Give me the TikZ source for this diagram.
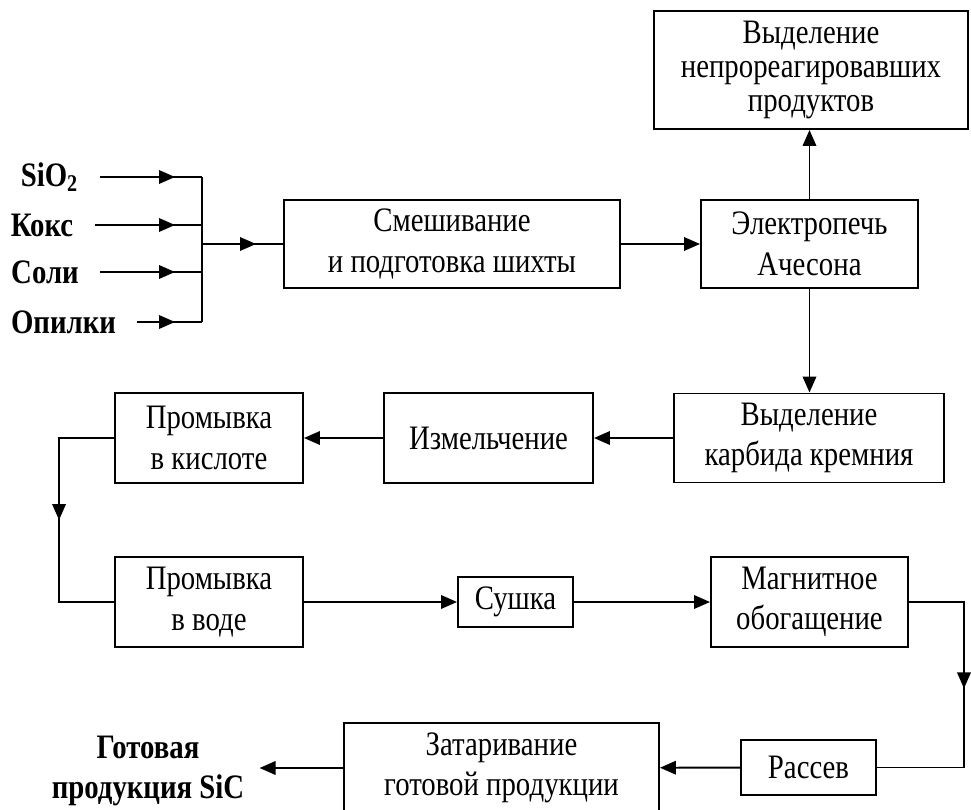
\documentclass[tikz,border=0pt]{standalone}
\usepackage{fontspec}
\setmainfont[FakeStretch=0.84]{Liberation Serif}
\usetikzlibrary{arrows.meta, decorations.markings}

\begin{document}
\begin{tikzpicture}[
		box/.style={draw, line width=1.1pt, align=center, inner sep=2pt, font=\fontsize{19.5}{23}\selectfont},
		src/.style={font=\bfseries\fontsize{19.5}{23}\selectfont, inner xsep=0.42cm},
		wire/.style={line width=1.1pt},
		arr/.style={line width=1.1pt, -{Triangle[length=0.32cm, width=0.27cm]}},
		midarr/.style={line width=1.1pt, postaction={decorate}, decoration={markings, mark=at position #1 with {\arrow{Triangle[length=0.32cm, width=0.27cm]}}}}
	]
				\path[use as bounding box, fill=white] (0,0) rectangle (19.42,-16.2);
				\node[box, minimum width=6.28cm, minimum height=2.36cm, font=\fontsize{19.5}{19.5}\selectfont] (unreacted) at (16.22,-1.40) {Выделение\\непрореагировавших\\продуктов};
				\node[box, minimum width=4.34cm, minimum height=1.76cm] (furnace) at (16.19,-4.88) {Электропечь\\Ачесона};
				\node[box, minimum width=6.72cm, minimum height=1.76cm] (mixing) at (9.04,-4.88) {Смешивание\\и подготовка шихты};
				\node[box, minimum width=5.4cm, minimum height=1.78cm] (carbide) at (16.18,-8.76) {Выделение\\карбида кремния};
				\node[box, minimum width=4.18cm, minimum height=1.8cm] (grinding) at (9.77,-8.76) {Измельчение};
				\node[box, minimum width=3.76cm, minimum height=1.8cm] (acidwash) at (4.18,-8.76) {Промывка\\в кислоте};
				\node[box, minimum width=3.76cm, minimum height=1.8cm] (waterwash) at (4.18,-12.04) {Промывка\\в воде};
				\node[box, minimum width=2.3cm, minimum height=1.0cm] (drying) at (10.31,-12.04) {Сушка};
				\node[box, minimum width=3.94cm, minimum height=1.8cm] (magnetic) at (16.19,-12.04) {Магнитное\\обогащение};
				\node[box, minimum width=2.7cm, minimum height=1.1cm] (sieving) at (16.17,-15.35) {Рассев};
				\node[box, minimum width=6.3cm, minimum height=1.8cm] (packing) at (10.03,-15.36) {Затаривание\\готовой продукции};
				\node[src, align=center, inner xsep=0.3cm] (product) at (2.96,-15.42) {Готовая\\продукция SiC};
				\node[src] (sio2) at (0.99,-3.54) {SiO\textsubscript{2}};
				\node[src] (coke) at (0.84,-4.50) {Кокс};
				\node[src] (salt) at (0.90,-5.44) {Соли};
				\node[src] (sawdust) at (1.27,-6.44) {Опилки};
				\coordinate (bustop) at (4.04,-3.54);
				\coordinate (busbot) at (4.04,-6.44);
				\coordinate (busmid) at (4.04,-4.88);
				\draw[wire] (bustop) -- (busbot);
				\draw[midarr=-0.54cm] (sio2.east) -- (sio2.east -| busmid);
				\draw[midarr=-0.54cm] (coke.east) -- (coke.east -| busmid);
				\draw[midarr=-0.54cm] (salt.east) -- (salt.east -| busmid);
				\draw[midarr=-0.54cm] (sawdust.east) -- (sawdust.east -| busmid);
				\draw[midarr=-0.54cm] (busmid) -- (mixing);
				\draw[arr] (mixing) -- (furnace);
				\draw[arr] (furnace.north) -- (furnace.north |- unreacted.south);
				\draw[arr] (furnace.south) -- (furnace.south |- carbide.north);
				\draw[arr] (carbide) -- (grinding);
				\draw[arr] (grinding) -- (acidwash);
				\draw[midarr=0.5] (acidwash.west) -- ++(-1.1,0) |- (waterwash.west);
				\draw[arr] (waterwash) -- (drying);
				\draw[arr] (drying) -- (magnetic);
				\draw[midarr=0.46] (magnetic.east) -- ++(1.1,0) |- (sieving.east);
				\draw[arr] (sieving) -- (packing);
				\draw[arr] (packing.west) -- (packing.west -| product.east);
\end{tikzpicture}
\end{document}
